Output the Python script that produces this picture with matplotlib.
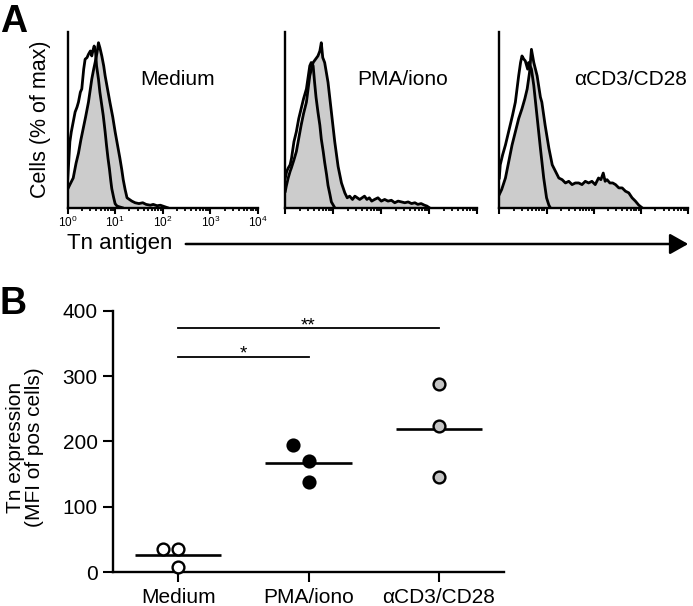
import numpy as np
import matplotlib
matplotlib.use('Agg')
import matplotlib.pyplot as plt

plt.rcParams['font.family'] = ['Liberation Sans', 'DejaVu Sans']
plt.rcParams['mathtext.fontset'] = 'custom'
plt.rcParams['mathtext.rm'] = 'Liberation Sans'

# ---- panel A: flow histograms (log10 intensity, % of max) ----
conditions = ['Medium', 'PMA/iono', 'αCD3/CD28']

medium_gray_log = [0.0, 0.05, 0.12, 0.18, 0.23, 0.28, 0.33, 0.38, 0.44, 0.48, 0.51, 0.55, 0.58, 0.62, 0.65,
                   0.68, 0.72, 0.76, 0.79, 0.84, 0.89, 0.95, 1.0, 1.05, 1.1, 1.14, 1.17, 1.21, 1.25, 1.3,
                   1.35, 1.42, 1.5, 1.58, 1.65, 1.74, 1.8, 1.88, 1.95, 2.02, 2.1]
medium_gray_val = [11, 14, 18, 27, 33, 41, 48, 55, 64, 72, 78, 84, 88, 94, 100,
                   97, 92, 86, 80, 72, 64, 55, 46, 38, 30, 23, 17, 11, 6, 5,
                   4, 3, 2.5, 3, 2, 1.5, 2, 1.2, 1.5, 0.8, 0]
medium_open_log = [0.0, 0.03, 0.05, 0.08, 0.12, 0.16, 0.2, 0.23, 0.27, 0.3, 0.34, 0.37, 0.41, 0.44, 0.48,
                   0.51, 0.54, 0.56, 0.59, 0.61, 0.65, 0.68, 0.72, 0.75, 0.79, 0.82, 0.85, 0.88, 0.91,
                   0.93, 0.97, 1.0, 1.04, 1.08, 1.15]
medium_open_val = [15, 30, 40, 46, 52, 58, 61, 64, 70, 72, 84, 90, 91, 93, 95,
                   92, 96, 98, 94, 86, 78, 70, 62, 56, 46, 37.6, 30, 23.6, 16,
                   11.5, 6, 2.4, 1, 0.6, 0]

pma_gray_log = [0.0, 0.02, 0.06, 0.1, 0.125, 0.18, 0.23, 0.28, 0.33, 0.38, 0.44, 0.51, 0.58, 0.63, 0.68,
                0.72, 0.75, 0.78, 0.82, 0.89, 0.96, 1.03, 1.10, 1.17, 1.24, 1.29, 1.34, 1.4, 1.45, 1.5,
                1.55, 1.6, 1.65, 1.7, 1.75, 1.8, 1.86, 1.93, 2.0, 2.07, 2.14, 2.21, 2.28, 2.35, 2.42,
                2.49, 2.56, 2.63, 2.7, 2.76, 2.83, 2.9, 2.95, 3.0]
pma_gray_val = [10, 13, 18, 22, 24, 29, 34, 42, 50, 57, 64, 80, 88, 90, 92,
                95, 100, 91, 88, 76, 58, 40, 25, 15, 9, 6, 7, 5, 7, 6,
                5, 6, 7, 5, 6, 4, 5, 6, 4, 5, 4, 4.5, 3, 4, 3.5,
                3, 3.5, 2.5, 3, 2, 2.5, 1.5, 1, 0]
pma_open_log = [0.0, 0.03, 0.06, 0.1, 0.13, 0.18, 0.23, 0.28, 0.33, 0.38, 0.44, 0.48, 0.51, 0.54, 0.58,
                0.61, 0.64, 0.68, 0.72, 0.75, 0.79, 0.82, 0.86, 0.89, 0.93, 0.96, 1.0, 1.03]
pma_open_val = [18, 22, 24, 26, 30, 40, 46, 54, 60, 66, 72, 80, 86, 88, 86,
                76, 67, 58, 50, 41.6, 34, 27.5, 20, 13.5, 8, 3.5, 1.5, 0]

cd3_gray_log = [0.0, 0.05, 0.13, 0.2, 0.27, 0.34, 0.41, 0.48, 0.54, 0.59, 0.64, 0.68, 0.73, 0.8, 0.87,
                0.9, 0.97, 1.05, 1.12, 1.19, 1.26, 1.33, 1.4, 1.47, 1.54, 1.61, 1.68, 1.75, 1.82, 1.89,
                1.96, 2.03, 2.1, 2.15, 2.2, 2.24, 2.28, 2.34, 2.4, 2.46, 2.53, 2.6, 2.67, 2.74, 2.81,
                2.88, 2.95, 3.02]
cd3_gray_val = [8, 11, 18, 28, 38, 46, 54, 60, 66, 72, 82, 96, 88, 80, 67,
                64, 50, 36, 26, 22, 18, 17, 15, 16, 14, 15, 15, 14, 16, 15,
                16, 14, 18, 17, 21, 16, 17, 15, 15, 14, 12, 12, 10, 9, 6,
                4, 1.6, 0]
cd3_open_log = [0.0, 0.02, 0.07, 0.13, 0.18, 0.23, 0.28, 0.34, 0.41, 0.45, 0.48, 0.52, 0.55, 0.6, 0.62,
                0.68, 0.73, 0.8, 0.87, 0.94, 1.0, 1.05, 1.08]
cd3_open_val = [18, 26, 32, 38, 44, 50, 56, 64, 80, 88, 92, 90, 89, 84, 88,
                84, 74, 55, 36, 18, 6, 1.5, 0]

# ---- panel B: MFI of positive cells ----
groups = ['Medium', 'PMA/iono', 'αCD3/CD28']
mfi_medium = [35, 35, 7.6]
mfi_pma = [194.6, 170, 137.6]
mfi_cd3 = [287.5, 224.2, 146.2]

W, H = 693, 606
fig = plt.figure(figsize=(W / 100, H / 100), dpi=100)

gray_fill = '#cccccc'
hist_boxes = [(67.5, 190.5), (285.3, 192), (499.3, 189)]   # left, width in px
label_x = [0.58, 0.613, 0.697]
hist_data = [(medium_gray_log, medium_gray_val, medium_open_log, medium_open_val),
             (pma_gray_log, pma_gray_val, pma_open_log, pma_open_val),
             (cd3_gray_log, cd3_gray_val, cd3_open_log, cd3_open_val)]

for i, (gl, gv, ol, ov) in enumerate(hist_data):
    left, width = hist_boxes[i]
    ax = fig.add_axes([left / W, (H - 207.7) / H, width / W, 175.7 / H])
    gx = 10 ** np.array(gl)
    ox = 10 ** np.array(ol)
    ax.fill_between(gx, gv, color=gray_fill, lw=0)
    ax.plot(gx, gv, color='black', lw=2.0)
    ax.plot(ox, ov, color='black', lw=2.0)
    ax.set_xscale('log')
    ax.set_xlim(1, 1e4)
    ax.set_ylim(0, 106.5)
    ax.set_yticks([])
    for s in ['top', 'right']:
        ax.spines[s].set_visible(False)
    for s in ['left', 'bottom']:
        ax.spines[s].set_linewidth(1.7)
    ax.tick_params(axis='x', which='major', direction='out', length=4, width=1.5, pad=1, labelsize=8.5)
    ax.tick_params(axis='x', which='minor', direction='out', length=2.5, width=1.3)
    if i > 0:
        ax.tick_params(axis='x', labelbottom=False)
    ax.text(label_x[i], 0.727, conditions[i], transform=ax.transAxes, ha='center', va='center', fontsize=15)

fig.text(41 / W, 1 - 119 / H, 'Cells (% of max)', rotation=90, ha='center', va='center', fontsize=15.5)
fig.text(67 / W, 1 - 243 / H, 'Tn antigen', ha='left', va='center', fontsize=16)
fig.add_artist(matplotlib.patches.FancyArrowPatch(
    (183 / W, 1 - 244 / H), (691 / W, 1 - 244 / H), transform=fig.transFigure,
    arrowstyle='-|>,head_length=0.8,head_width=0.45', mutation_scale=14, lw=1.8, color='black'))
fig.text(0.0, 1 - 4 / H, 'A', ha='left', va='top', fontsize=27, fontweight='bold')
fig.text(0.0, 1 - 286 / H, 'B', ha='left', va='top', fontsize=27, fontweight='bold')

# panel B
axb = fig.add_axes([113 / W, (H - 572.3) / H, 391 / W, 261.6 / H])
offsets = [[-0.12, 0, 0], [-0.12, 0, 0], [0, 0, 0]]
faces = ['white', 'black', '#c4c4c4']
for i, vals in enumerate([mfi_medium, mfi_pma, mfi_cd3]):
    xs = [i + o for o in offsets[i]]
    axb.plot(xs, vals, 'o', ms=8.5, mfc=faces[i], mec='black', mew=1.7, zorder=3, clip_on=False)
    axb.hlines(np.mean(vals), i - 0.33, i + 0.33, color='black', lw=1.9, zorder=2)

axb.plot([0, 2], [373, 373], color='black', lw=1.3)
axb.text(1, 370.5, '**', ha='center', va='baseline', fontsize=13.5)
axb.plot([0, 1], [329, 329], color='black', lw=1.3)
axb.text(0.5, 326.5, '*', ha='center', va='baseline', fontsize=13.5)

axb.set_xlim(-0.5, 2.5)
axb.set_ylim(0, 400)
axb.set_yticks([0, 100, 200, 300, 400])
axb.set_xticks(range(3))
axb.set_xticklabels(groups)
for s in ['top', 'right']:
    axb.spines[s].set_visible(False)
for s in ['left', 'bottom']:
    axb.spines[s].set_linewidth(1.7)
axb.tick_params(direction='out', length=7, width=1.5, labelsize=15, pad=4)
fig.text(25 / W, 1 - 447 / H, 'Tn expression\n(MFI of pos cells)', rotation=90, ha='center', va='center',
         fontsize=15, linespacing=1.0, multialignment='center')

plt.savefig('out.png', dpi=100)
